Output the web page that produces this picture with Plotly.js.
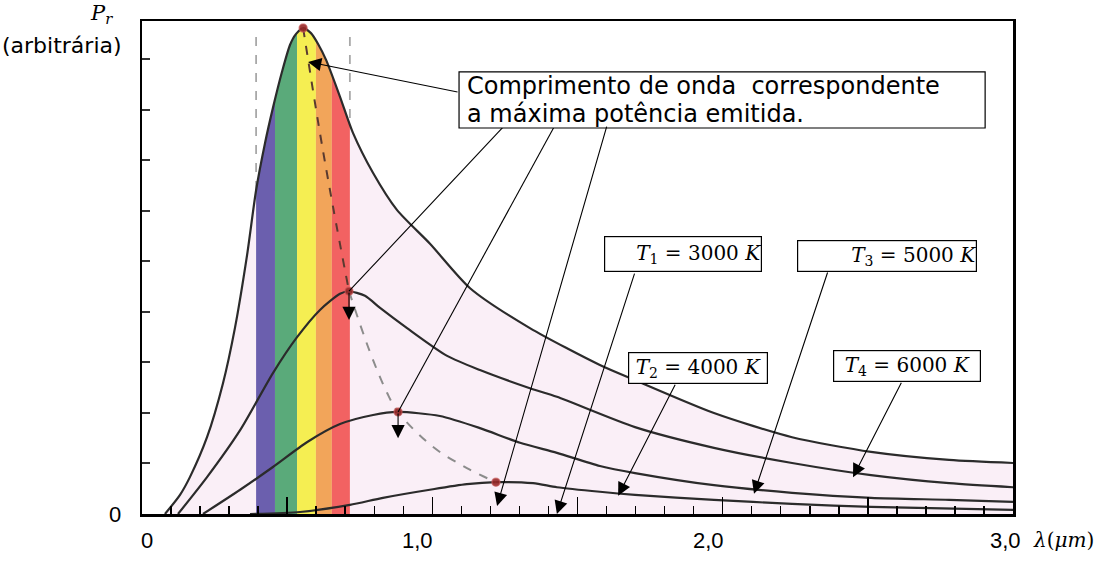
<!DOCTYPE html>
<html><head><meta charset="utf-8">
<script src="https://cdn.plot.ly/plotly-3.0.1.min.js"></script>
<style>html,body{margin:0;padding:0;background:#fff}#chart{width:1117px;height:561px}</style>
</head><body><div id="chart"></div>
<script>
// ---- data (wavelength in µm, power in arbitrary units) ----
const wl6000 = [0.079,0.131,0.165,0.224,0.279,0.320,0.362,0.393,0.424,0.451,0.482,0.510,0.530,0.555,0.582,0.606,0.634,0.682,0.727,0.796,0.878,0.992,1.130,1.336,1.577,1.698,1.970,2.239,2.511,2.780,3.0];
const p6000  = [0,0.38,0.73,1.52,2.59,3.68,5.13,6.41,7.35,8.04,8.75,9.29,9.50,9.62,9.52,9.31,8.99,8.26,7.54,6.75,6.02,5.35,4.47,3.68,2.95,2.65,2.00,1.52,1.23,1.07,1.01];

const wl5000 = [0.124,0.224,0.338,0.451,0.534,0.613,0.682,0.713,0.768,0.820,0.913,1.051,1.164,1.336,1.429,1.698,1.970,2.239,2.511,2.780,3.0];
const p5000  = [0,0.73,1.66,2.79,3.50,4.04,4.36,4.41,4.32,4.08,3.68,3.13,2.85,2.49,2.32,1.72,1.31,1.01,0.77,0.61,0.53];

const wl4000 = [0.210,0.338,0.451,0.568,0.682,0.796,0.882,1.026,1.164,1.302,1.429,1.577,1.698,1.970,2.239,2.511,2.780,3.0];
const p4000  = [0,0.48,0.93,1.42,1.78,1.96,2.02,1.94,1.70,1.41,1.21,0.95,0.81,0.57,0.42,0.32,0.28,0.24];

const wl3000 = [0.372,0.544,0.716,0.830,1.002,1.119,1.219,1.347,1.429,1.577,1.698,1.970,2.239,2.511,3.0];
const p3000  = [0,0.04,0.18,0.32,0.49,0.59,0.63,0.61,0.53,0.44,0.38,0.28,0.20,0.14,0.08];

const peakWl = [0.555,0.713,0.882,1.219];
const peakP  = [9.62,4.41,2.02,0.63];

const wienWl = [0.555,0.613,0.658,0.713,0.785,0.844,0.882,1.002,1.119,1.219];
const wienP  = [9.62,7.54,6.08,4.41,3.21,2.40,2.02,1.33,0.91,0.63];

const bandEdges  = [0.393,0.458,0.534,0.599,0.654,0.716];
const bandColors = ['#6b5fae','#5aaa7a','#f5ee52','#f2a55a','#f26262'];
const visibleLimits = [0.393,0.716];

const xTickVals = [0,0.5,1,1.5,2,2.5,3];
const xLabelVals = [0,1,2,3];
const xLabelText = ['0','1,0','2,0','3,0'];
const yTickVals = [0,1,2,3,4,5,6,7,8,9];
const yLabelText = '0';

const tempLabels = ['<i>T</i><sub>1</sub> = 3000 <i>K</i>','<i>T</i><sub>2</sub> = 4000 <i>K</i>',
                    '<i>T</i><sub>3</sub> = 5000 <i>K</i>','<i>T</i><sub>4</sub> = 6000 <i>K</i>'];
const boxLines = ['Comprimento de onda  correspondente','a máxima potência emitida.'];

// ---- helpers ----
function interp(xs, ys, x){
  for (let i=0;i<xs.length-1;i++){
    if (x>=xs[i] && x<=xs[i+1]){ const t=(x-xs[i])/(xs[i+1]-xs[i]); return ys[i]+t*(ys[i+1]-ys[i]); }
  }
  return 0;
}
function bandPolygon(a,b){
  const X=[a,a], Y=[0, interp(wl6000,p6000,a)];
  for (let i=0;i<wl6000.length;i++){ if (wl6000[i]>a && wl6000[i]<b){ X.push(wl6000[i]); Y.push(p6000[i]); } }
  X.push(b,b); Y.push(interp(wl6000,p6000,b),0);
  return {X,Y};
}

const traces = [];
traces.push({x:wl6000, y:p6000, type:'scatter', mode:'lines', fill:'tozeroy', fillcolor:'#faeff7',
  line:{width:0, shape:'spline', smoothing:0.6}, hoverinfo:'skip', showlegend:false});
for (let i=0;i<bandColors.length;i++){
  const p = bandPolygon(bandEdges[i], bandEdges[i+1]);
  traces.push({x:p.X, y:p.Y, type:'scatter', mode:'lines', fill:'toself', fillcolor:bandColors[i],
    line:{width:0}, hoverinfo:'skip', showlegend:false});
}
[[wl3000,p3000],[wl4000,p4000],[wl5000,p5000],[wl6000,p6000]].forEach(c=>{
  traces.push({x:c[0], y:c[1], type:'scatter', mode:'lines',
    line:{color:'#2b2b2b', width:2.2, shape:'spline', smoothing:0.7}, hoverinfo:'skip', showlegend:false});
});
traces.push({x:wienWl.slice(0,4), y:wienP.slice(0,4), type:'scatter', mode:'lines',
  line:{color:'#5a3a30', width:2, dash:'dash', shape:'spline'}, hoverinfo:'skip', showlegend:false});
traces.push({x:wienWl.slice(3), y:wienP.slice(3), type:'scatter', mode:'lines',
  line:{color:'#8c8c8c', width:2, dash:'dash', shape:'spline'}, hoverinfo:'skip', showlegend:false});
traces.push({x:peakWl, y:peakP, type:'scatter', mode:'markers',
  marker:{color:'rgba(150,40,40,0.9)', size:8, line:{color:'rgba(200,90,90,0.6)', width:1.5}},
  hoverinfo:'skip', showlegend:false});

// ---- annotations & shapes ----
const sansFont = {family:'Liberation Sans, Arial, sans-serif', size:22, color:'black'};
const boxFont  = {family:'DejaVu Sans, sans-serif', size:24, color:'black'};
const serifFont = {family:'DejaVu Serif, serif', size:20, color:'black'};
const ann = [];
const shapes = [];
function arrow(tail, head){
  ann.push({x:head[0], y:head[1], ax:tail[0], ay:tail[1], xref:'x', yref:'y', axref:'x', ayref:'y',
    text:'', showarrow:true, arrowhead:2, arrowsize:2.4, arrowwidth:1.1, arrowcolor:'black', standoff:0});
}
function segment(a, b){
  shapes.push({type:'line', xref:'x', yref:'y', x0:a[0], y0:a[1], x1:b[0], y1:b[1], line:{color:'black', width:1.1}});
}
// arrows from the text box
arrow([1.092,8.35],[0.572,8.95]);
segment([1.250,7.70],[peakWl[1],peakP[1]]);
arrow([peakWl[1],peakP[1]],[peakWl[1],3.84]);
segment([1.423,7.70],[peakWl[2],peakP[2]]);
arrow([peakWl[2],peakP[2]],[peakWl[2],1.50]);
arrow([1.602,7.70],[1.223,0.16]);
// temperature arrows
arrow([1.698,4.79],[1.429,0.0]);
arrow([1.839,2.59],[1.640,0.36]);
arrow([2.363,4.81],[2.108,0.40]);
arrow([2.618,2.63],[2.449,0.73]);

shapes.push({type:'rect', xref:'paper', yref:'paper', x0:0.364, x1:0.968, y0:0.783, y1:0.897,
  fillcolor:'white', line:{color:'black', width:1.2}, layer:'above'});
boxLines.forEach((t,i)=>{
  ann.push({xref:'paper', yref:'paper', x:0.372, y:[0.869,0.812][i], xanchor:'left', yanchor:'middle',
    text:t, showarrow:false, font:boxFont, borderpad:0});
});
const tBoxes = [[0.621,0.527,156,34],[0.638,0.297,138,30],[0.855,0.524,178,30],[0.878,0.301,146,30]];
tBoxes.forEach((b,i)=>{
  ann.push({xref:'paper', yref:'paper', x:b[0], y:b[1], xanchor:'center', yanchor:'middle', text:tempLabels[i],
    width:b[2], height:b[3], align:(i===0||i===2)?'right':'center', showarrow:false, font:serifFont,
    bgcolor:'white', bordercolor:'black', borderwidth:1.2, borderpad:0});
});
const xLabelShift = [5,-15,-14,-8];
xLabelVals.forEach((v,i)=>{
  ann.push({xref:'x', yref:'paper', x:v, y:-0.053, xanchor:'center', yanchor:'middle', xshift:xLabelShift[i],
    text:xLabelText[i], showarrow:false, font:sansFont});
});
ann.push({xref:'paper', yref:'y', x:-0.031, y:0, xanchor:'center', yanchor:'middle',
  text:yLabelText, showarrow:false, font:sansFont});
ann.push({xref:'paper', yref:'paper', x:-0.046, y:1.014, xanchor:'center', yanchor:'middle',
  text:'<i>P</i><sub><i>r</i></sub>', showarrow:false, font:{family:'DejaVu Serif, serif', size:21, color:'black'}});
ann.push({xref:'paper', yref:'paper', x:-0.092, y:0.951, xanchor:'center', yanchor:'middle',
  text:'(arbitrária)', showarrow:false, font:{family:'DejaVu Sans, sans-serif', size:22, color:'black'}});
ann.push({xref:'paper', yref:'paper', x:1.058, y:-0.053, xanchor:'center', yanchor:'middle',
  text:'<i>λ</i>(<i>μm</i>)', showarrow:false, font:{family:'DejaVu Serif, serif', size:20, color:'black'}});

visibleLimits.forEach(v=>shapes.push({type:'line', xref:'x', yref:'paper', x0:v, x1:v, y0:0, y1:0.985,
  layer:'below', line:{color:'#a8a8a8', width:1.8, dash:'dash'}}));

const layout = {
  width:1117, height:561, margin:{l:142, r:104, t:21, b:47},
  paper_bgcolor:'white', plot_bgcolor:'white', showlegend:false,
  xaxis:{range:[0,3], showgrid:false, zeroline:false, showline:true, linecolor:'black', linewidth:2.5, mirror:true,
    ticks:'inside', tickmode:'array', tickvals:xTickVals, showticklabels:false, ticklen:17, tickwidth:1.5, tickcolor:'black',
    minor:{dtick:0.1, tick0:0, ticks:'inside', ticklen:8, tickwidth:1.5, tickcolor:'black', showgrid:false}},
  yaxis:{range:[0,9.76], showgrid:false, zeroline:false, showline:true, linecolor:'black', linewidth:2.5, mirror:true,
    ticks:'inside', tickmode:'array', tickvals:yTickVals, showticklabels:false, ticklen:8, tickwidth:2, tickcolor:'#333'},
  annotations:ann, shapes:shapes
};
Plotly.newPlot('chart', traces, layout, {displayModeBar:false, staticPlot:true});
</script></body></html>
